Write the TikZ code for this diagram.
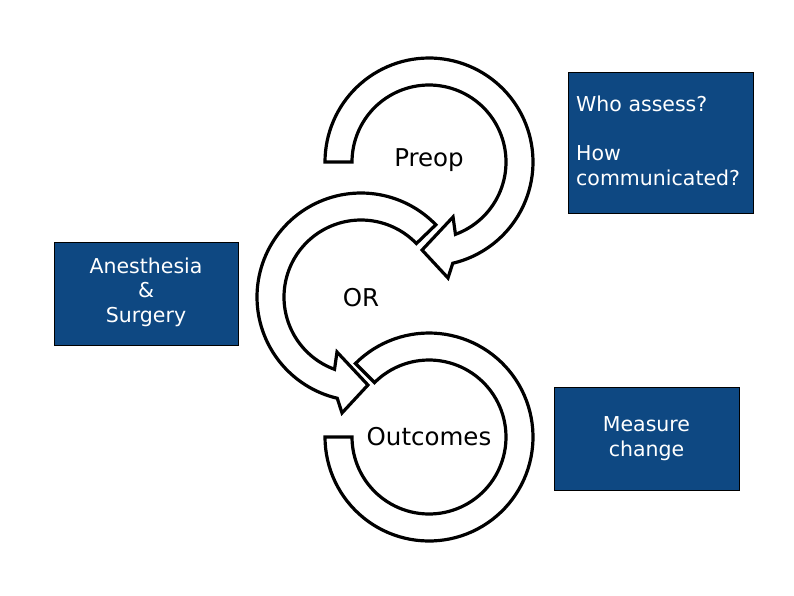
\documentclass[tikz,border=0pt]{standalone}
\usepackage{fontspec}
\setmainfont{DejaVu Sans}
\definecolor{boxblue}{RGB}{14,72,130}
\begin{document}
\begin{tikzpicture}[x=1pt,y=-1pt,
  band/.style={draw=black, fill=white, line width=3.2pt, line join=miter},
  bluebox/.style={draw=black, line width=0.9pt, fill=boxblue, inner sep=0pt},
  boxtext/.style={text=white, font=\fontsize{20.5}{24.5}\selectfont, inner sep=0pt},
  steplabel/.style={font=\fontsize{24.5}{28}\selectfont, inner sep=0pt, anchor=base}]
\useasboundingbox (0,0) rectangle (794,595);

% Preop circular arrow (centre 429,162)
\draw[band] plot[domain=180:436.8, samples=90] ({429+104*cos(\x)},{162+104*sin(\x)})
  -- ({429+117.5*cos(80.7)},{162+117.5*sin(80.7)})
  -- ({429+88.3*cos(94.5)},{162+88.3*sin(94.5)})
  -- ({429+60*cos(66.4)},{162+60*sin(66.4)})
  -- plot[domain=429.9:180, samples=90] ({429+77*cos(\x)},{162+77*sin(\x)})
  -- cycle;

% OR circular arrow (centre 361,297)
\draw[band] plot[domain=-44:-256.8, samples=90] ({361+104*cos(\x)},{297+104*sin(\x)})
  -- ({361+117.5*cos(99.3)},{297+117.5*sin(99.3)})
  -- ({361+88.3*cos(85.5)},{297+88.3*sin(85.5)})
  -- ({361+60*cos(113.6)},{297+60*sin(113.6)})
  -- plot[domain=-249.9:-44, samples=90] ({361+77*cos(\x)},{297+77*sin(\x)})
  -- cycle;

% Outcomes circular band (centre 429,437)
\draw[band] plot[domain=180:-135, samples=100] ({429+104*cos(\x)},{437+104*sin(\x)})
  -- plot[domain=-135:180, samples=100] ({429+77*cos(\x)},{437+77*sin(\x)})
  -- cycle;

\node[steplabel] (preop) at (429,166) {Preop};
\node[steplabel] (or) at (361,306.5) {OR};
\node[steplabel] (outcomes) at (429,445) {Outcomes};

% blue boxes
\node[bluebox, minimum width=185pt, minimum height=141pt] (who) at (660.5,142.5) {};
\node[boxtext, anchor=north west, align=left] (whotext) at (576,96) {Who assess?\\\mbox{}\\How\\communicated?};

\node[bluebox, minimum width=184pt, minimum height=103pt] (anes) at (146,293.5) {};
\node[boxtext, align=center] (anestext) at (146,292) {Anesthesia\\\&\\Surgery};

\node[bluebox, minimum width=185pt, minimum height=103pt] (measure) at (646.5,438.5) {};
\node[boxtext, align=center] (measuretext) at (646.5,438.5) {Measure\\change};
\end{tikzpicture}
\end{document}
